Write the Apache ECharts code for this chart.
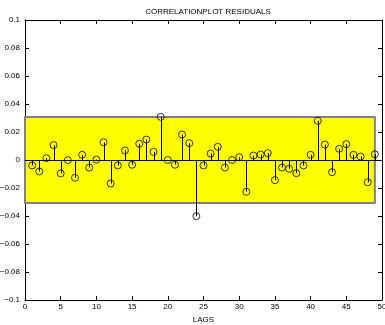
<!DOCTYPE html>
<html><head><meta charset="utf-8">
<script src="https://cdn.jsdelivr.net/npm/echarts@6/dist/echarts.min.js"></script>
<style>html,body{margin:0;padding:0;background:#fff}#c{width:385px;height:325px}</style>
</head><body><div id="c"></div>
<script>
const lags = [1,2,3,4,5,6,7,8,9,10,11,12,13,14,15,16,17,18,19,20,21,22,23,24,25,26,27,28,29,30,31,32,33,34,35,36,37,38,39,40,41,42,43,44,45,46,47,48,49];
const acf = [-0.0039,-0.0082,0.0013,0.0106,-0.0096,-0.0001,-0.0127,0.0037,-0.0054,0.0003,
 0.0127,-0.0168,-0.0039,0.0068,-0.0034,0.0116,0.0146,0.0058,0.0308,0.0000,
 -0.0034,0.0182,0.0120,-0.0401,-0.0039,0.0046,0.0094,-0.0054,0.0000,0.0020,
 -0.0227,0.0032,0.0039,0.0049,-0.0144,-0.0054,-0.0063,-0.0094,-0.0039,0.0037,
 0.0280,0.0110,-0.0087,0.0080,0.0113,0.0037,0.0025,-0.0159,0.0041];
const confBound = 0.0307;
const bandStart = 0, bandEnd = 49;
const xTicks = [0,5,10,15,20,25,30,35,40,45,50];
const yTicks = [-0.1,-0.08,-0.06,-0.04,-0.02,0,0.02,0.04,0.06,0.08,0.1];
const titleText = 'CORRELATIONPLOT RESIDUALS';
const xName = 'LAGS';

const FONT = 'Liberation Sans';
const pts = lags.map((l,i)=>[l, acf[i]]);
const fmtY = v => { const r = Math.round(v*100)/100; if (r===0) return '0'; const s = String(Math.abs(r)); return (r<0?'\u2212':'') + s; };
const axisCommon = {
  type:'value', axisLine:{show:true,onZero:false,lineStyle:{color:'#000',width:1}},
  axisTick:{show:true,inside:true,length:4,lineStyle:{color:'#000'}},
  splitLine:{show:false}
};
const chart = echarts.init(document.getElementById('c'), null, {renderer:'canvas'});
chart.setOption({
  animation:false,
  title:{text:titleText,left:203,top:3,textAlign:'center',textStyle:{fontFamily:FONT,fontSize:8,fontWeight:'normal',color:'#000'}},
  grid:{left:25,right:3,top:20,bottom:25,containLabel:false,outerBoundsMode:'none'},
  xAxis:[
    Object.assign({},axisCommon,{position:'bottom',min:0,max:50,interval:5,
      axisLabel:{fontFamily:FONT,fontSize:8,color:'#000',margin:3},
      name:xName,nameLocation:'middle',nameGap:12,nameTextStyle:{fontFamily:FONT,fontSize:8,color:'#000'}}),
    Object.assign({},axisCommon,{position:'top',min:0,max:50,interval:5,axisLabel:{show:false}})
  ],
  yAxis:[
    Object.assign({},axisCommon,{position:'left',min:-0.1,max:0.1,interval:0.02,
      axisLabel:{fontFamily:FONT,fontSize:8,color:'#000',margin:5,formatter:fmtY}}),
    Object.assign({},axisCommon,{position:'right',min:-0.1,max:0.1,interval:0.02,axisLabel:{show:false}})
  ],
  series:[
    {type:'line',data:[],z:1,silent:true,
     markArea:{silent:true,itemStyle:{color:'#ffff00',borderColor:'#808080',borderWidth:2},
       data:[[{coord:[bandStart,-confBound]},{coord:[bandEnd,confBound]}]]}},
    {type:'custom',z:3,silent:true,data:pts,
     renderItem:(params,api)=>{
       const p0 = api.coord([api.value(0),0]);
       const p1 = api.coord([api.value(0),api.value(1)]);
       const x = Math.round(p0[0])+0.5;
       return {type:'line',shape:{x1:x,y1:p0[1],x2:x,y2:p1[1]},style:{stroke:'#000',lineWidth:1}};
     },
     markLine:{silent:true,symbol:'none',label:{show:false},lineStyle:{color:'#000',width:1,type:'solid'},
       data:[{yAxis:0}]}},
    {type:'scatter',z:4,silent:true,data:pts,symbol:'circle',symbolSize:7,
     itemStyle:{color:'rgba(0,0,0,0)',borderColor:'#000',borderWidth:1}}
  ]
});
</script></body></html>
